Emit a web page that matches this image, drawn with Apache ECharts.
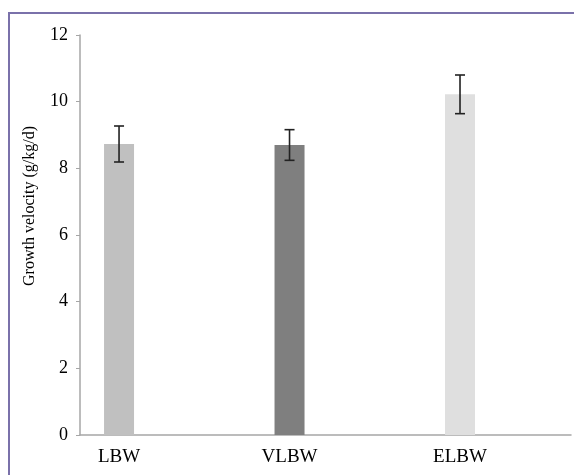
<!DOCTYPE html>
<html>
<head>
<meta charset="utf-8">
<script src="https://cdn.jsdelivr.net/npm/echarts@6/dist/echarts.min.js"></script>
<style>
  html, body { margin: 0; padding: 0; background: #fff; }
  #chart { width: 574px; height: 475px; }
</style>
</head>
<body>
<div id="chart"></div>
<script>
// data
var categories = ['LBW', 'VLBW', 'ELBW'];
var means = [8.73, 8.7, 10.22];
var errors = [0.54, 0.46, 0.58];
var barColors = ['#c0c0c0', '#7f7f7f', '#dfdfdf'];
var yTicks = { min: 0, max: 12, interval: 2 };

var barData = categories.map(function (c, i) {
  return { value: [i, means[i]], itemStyle: { color: barColors[i] } };
});
var errData = categories.map(function (c, i) {
  return [i, means[i] - errors[i], means[i] + errors[i]];
});

var myChart = echarts.init(document.getElementById('chart'));
var font = 'Liberation Serif';

var option = {
  animation: false,
  backgroundColor: '#fff',
  graphic: [
    {
      type: 'rect',
      shape: { x: 9, y: 13, width: 620, height: 520 },
      style: { fill: 'none', stroke: '#7a71aa', lineWidth: 2 },
      silent: true
    }
  ],
  grid: { left: 80, right: 3, top: 35, bottom: 40 },
  xAxis: {
    type: 'value',
    // bars are not centred in equal bands in the original, so a value axis places them
    min: -0.229,
    max: 2.651,
    splitLine: { show: false },
    axisTick: { show: false },
    axisLine: { show: true, lineStyle: { color: '#a6a6a6', width: 1.5 } },
    axisLabel: {
      customValues: [0, 1, 2],
      formatter: function (v) { return categories[v] || ''; },
      color: '#000',
      fontFamily: font,
      fontSize: 19,
      margin: 13
    }
  },
  yAxis: {
    type: 'value',
    min: yTicks.min,
    max: yTicks.max,
    interval: yTicks.interval,
    name: 'Growth velocity (g/kg/d)',
    nameLocation: 'middle',
    nameGap: 42,
    nameTextStyle: {
      color: '#000',
      fontFamily: font,
      fontSize: 16,
      // pushes the title up, it sits above the middle of the axis
      padding: [0, 0, 0, 58]
    },
    splitLine: { show: false },
    axisLine: { show: true, onZero: false, lineStyle: { color: '#a6a6a6', width: 1.5 } },
    axisTick: { show: true, length: 4, lineStyle: { color: '#a6a6a6' } },
    axisLabel: { color: '#000', fontFamily: font, fontSize: 18, margin: 12 }
  },
  series: [
    {
      type: 'bar',
      barWidth: 30,
      data: barData
    },
    {
      type: 'custom',
      data: errData,
      z: 5,
      renderItem: function (params, api) {
        var top = api.coord([api.value(0), api.value(2)]);
        var bot = api.coord([api.value(0), api.value(1)]);
        var hw = 5;
        var st = { stroke: '#222', lineWidth: 1.6 };
        return {
          type: 'group',
          children: [
            { type: 'line', shape: { x1: top[0], y1: top[1], x2: bot[0], y2: bot[1] }, style: st },
            { type: 'line', shape: { x1: top[0] - hw, y1: top[1], x2: top[0] + hw, y2: top[1] }, style: st },
            { type: 'line', shape: { x1: bot[0] - hw, y1: bot[1], x2: bot[0] + hw, y2: bot[1] }, style: st }
          ]
        };
      }
    }
  ]
};

myChart.setOption(option);
window.addEventListener('resize', function () {
  myChart.resize();
});
</script>
</body>
</html>
